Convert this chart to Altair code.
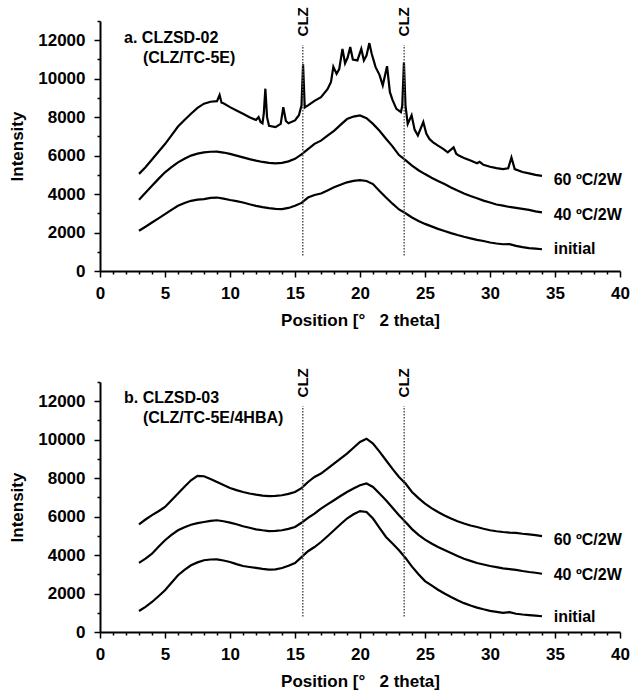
import altair as alt
import pandas as pd

FONT = "Liberation Sans"

# Sampling grid (degrees 2-theta) shared by the smooth patterns
two_theta = [round(3.0 + 0.5 * i, 2) for i in range(63)]

# ---- a. CLZSD-02 (CLZ/TC-5E) ----
a_initial = [2090, 2300, 2520, 2740, 2960, 3180, 3390, 3540, 3650, 3710,
             3740, 3800, 3820, 3760, 3690, 3630, 3560, 3470, 3390, 3320,
             3270, 3230, 3220, 3280, 3390, 3540, 3820, 3950, 4030, 4190,
             4350, 4480, 4610, 4690, 4730, 4680, 4520, 4160, 3820, 3500,
             3200, 3000, 2780, 2600, 2450, 2320, 2190, 2080, 1970, 1870,
             1780, 1700, 1620, 1560, 1480, 1430, 1390, 1400, 1310, 1240,
             1190, 1160, 1130]
a_40c = [3700, 4070, 4430, 4790, 5130, 5400, 5650, 5840, 6000, 6100,
         6170, 6200, 6210, 6160, 6090, 6000, 5910, 5820, 5740, 5670,
         5620, 5600, 5620, 5700, 5830, 6060, 6340, 6610, 6780, 7040,
         7290, 7600, 7900, 8030, 8090, 7950, 7650, 7290, 6880, 6480,
         6030, 5760, 5480, 5240, 5040, 4850, 4680, 4520, 4340, 4180,
         4030, 3900, 3780, 3660, 3560, 3460, 3400, 3330, 3280, 3230,
         3180, 3100, 3050]
# 60 ºC/2W shows crystalline reflections, so it is sampled more finely
a_60c_pos = [3.0, 3.5, 4.0, 4.5, 5.0, 5.5, 6.0, 6.5, 7.0, 7.5,
             8.0, 8.5, 9.0, 9.2, 9.35, 9.5, 10.0, 10.5, 11.0, 11.5,
             12.0, 12.2, 12.35, 12.5, 12.6, 12.72, 12.85, 13.0, 13.5, 13.9,
             14.1, 14.3, 14.5, 15.0, 15.3, 15.5, 15.62, 15.75, 16.0, 16.5,
             17.0, 17.5, 17.77, 17.95, 18.2, 18.4, 18.65, 18.85, 19.05, 19.25,
             19.45, 19.8, 20.1, 20.3, 20.5, 20.72, 20.9, 21.2, 21.5, 21.75,
             22.08, 22.3, 22.5, 22.8, 23.15, 23.25, 23.38, 23.5, 23.67, 23.97,
             24.2, 24.45, 24.87, 25.1, 25.33, 25.6, 26.0, 26.4, 26.75, 27.2,
             27.4, 27.6, 28.0, 28.5, 29.0, 29.2, 29.5, 30.0, 30.5, 31.0,
             31.4, 31.65, 31.9, 32.5, 33.0, 33.5, 34.0]
a_60c = [5050, 5400, 5800, 6200, 6600, 7050, 7510, 7850, 8180, 8480,
         8700, 8800, 8830, 9150, 8750, 8720, 8520, 8350, 8180, 8000,
         7850, 8000, 7750, 7680, 8200, 9480, 8000, 7550, 7480, 7650,
         8520, 7800, 7680, 7830, 8100, 8600, 10750, 8500, 8610, 8850,
         9040, 9450, 9830, 10620, 10250, 10500, 11550, 10800, 11100, 11650,
         11000, 10950, 11550, 10950, 11200, 11850, 11300, 10600, 10200, 9650,
         10650, 9300, 8900, 8430, 8260, 8600, 10850, 8600, 7650, 8100,
         7350, 7050, 7750, 7150, 6870, 6700, 6520, 6350, 6170, 6430,
         6100, 6000, 5880, 5750, 5600, 5680, 5520, 5420, 5350, 5300,
         5340, 5900, 5300, 5150, 5080, 5000, 4950]

# ---- b. CLZSD-03 (CLZ/TC-5E/4HBA) ----
b_initial = [1090, 1310, 1560, 1860, 2170, 2560, 2950, 3230, 3470, 3620,
             3730, 3770, 3780, 3720, 3640, 3530, 3430, 3380, 3330, 3280,
             3240, 3260, 3330, 3440, 3590, 3890, 4200, 4420, 4680, 4980,
             5290, 5600, 5900, 6120, 6290, 6240, 5900, 5420, 4940, 4600,
             4250, 3850, 3400, 3000, 2650, 2420, 2200, 2000, 1820, 1650,
             1500, 1380, 1270, 1180, 1100, 1050, 1000, 1030, 950, 910,
             880, 850, 820]
b_40c = [3590, 3820, 4070, 4430, 4770, 5050, 5290, 5450, 5580, 5660,
         5720, 5780, 5810, 5760, 5690, 5600, 5500, 5420, 5340, 5290,
         5250, 5260, 5290, 5360, 5460, 5680, 5930, 6160, 6420, 6640,
         6850, 7070, 7280, 7460, 7630, 7720, 7540, 7200, 6850, 6460,
         6070, 5720, 5350, 5050, 4800, 4600, 4420, 4260, 4110, 3950,
         3810, 3700, 3590, 3510, 3430, 3370, 3310, 3270, 3230, 3170,
         3120, 3080, 3030]
b_60c = [5600, 5850, 6080, 6280, 6500, 6850, 7200, 7550, 7890, 8120,
         8100, 7950, 7800, 7640, 7490, 7380, 7280, 7200, 7140, 7090,
         7070, 7080, 7110, 7180, 7280, 7480, 7800, 8060, 8240, 8500,
         8760, 9020, 9280, 9580, 9880, 10050, 9800, 9380, 8930, 8480,
         8060, 7720, 7280, 6960, 6680, 6440, 6240, 6060, 5900, 5760,
         5640, 5540, 5460, 5370, 5290, 5240, 5200, 5170, 5150, 5110,
         5080, 5040, 4990]

# CLZ reference reflections
clz_pos = [15.6, 23.4]
clz_label = ["CLZ", "CLZ"]

series_names = ["initial", "40 ºC/2W", "60 ºC/2W"]
label_y_a = [1130, 2900, 4750]
label_y_b = [800, 2950, 4770]


def frame(x, y, name):
    return pd.DataFrame({"pos": x, "intensity": y, "sample": name})


x_scale = alt.Scale(domain=[0, 40], nice=False, zero=False)
y_scale = alt.Scale(domain=[0, 13000], nice=False)

x_axis = alt.Axis(
    title="Position [°\u00a0\u00a0 2 theta]",
    values=list(range(0, 41)),
    labelExpr="datum.value % 5 === 0 ? datum.label : ''",
    tickSize={"condition": {"test": "datum.value % 5 === 0", "value": 6}, "value": 3},
    labelPadding=8, titlePadding=11, labelOverlap=False, labelFlush=False,
)
y_axis = alt.Axis(
    title="Intensity", format="d",
    values=list(range(0, 13001, 1000)),
    labelExpr="datum.value % 2000 === 0 && datum.value <= 12000 ? datum.label : ''",
    tickSize={"condition": {"test": "datum.value % 2000 === 0", "value": 6}, "value": 3},
    labelPadding=9, titlePadding=11, labelOverlap=False, labelFlush=False,
)


def panel(curves, note_lines, note_y, label_y):
    X = alt.X("pos:Q", scale=x_scale, axis=x_axis)
    lines = alt.Chart(curves).mark_line(color="black", strokeWidth=2.2).encode(
        x=X, y=alt.Y("intensity:Q", scale=y_scale, axis=y_axis), detail="sample:N"
    )
    clz = pd.DataFrame({"pos": clz_pos, "label": clz_label,
                        "lo": [800, 800], "hi": [11750, 11750], "ty": [12200, 12200]})
    rules = alt.Chart(clz).mark_rule(color="#555555", strokeWidth=1.5, strokeDash=[1.5, 1.5]).encode(
        x=X, y=alt.Y("lo:Q", scale=y_scale, axis=y_axis), y2="hi:Q"
    )
    clz_text = alt.Chart(clz).mark_text(
        angle=270, align="left", baseline="middle", font=FONT, fontSize=15,
        fontWeight="bold", color="black"
    ).encode(x=X, y=alt.Y("ty:Q", scale=y_scale, axis=y_axis), text="label:N")
    notes = pd.DataFrame({"pos": [1.85, 3.3], "y": note_y, "txt": note_lines})
    note_text = alt.Chart(notes).mark_text(
        align="left", baseline="middle", font=FONT, fontSize=16, fontWeight="bold", color="black"
    ).encode(x=X, y=alt.Y("y:Q", scale=y_scale, axis=y_axis), text="txt:N")
    ends = pd.DataFrame({"pos": [34.9] * 3, "y": label_y, "txt": series_names})
    end_text = alt.Chart(ends).mark_text(
        align="left", baseline="middle", font=FONT, fontSize=16, fontWeight="bold", color="black"
    ).encode(x=X, y=alt.Y("y:Q", scale=y_scale, axis=y_axis), text="txt:N")
    return alt.layer(lines, rules, clz_text, note_text, end_text).properties(width=520, height=250)


curves_a = pd.concat([
    frame(two_theta, a_initial, "initial"),
    frame(two_theta, a_40c, "40"),
    frame(a_60c_pos, a_60c, "60"),
])
curves_b = pd.concat([
    frame(two_theta, b_initial, "initial"),
    frame(two_theta, b_40c, "40"),
    frame(two_theta, b_60c, "60"),
])

panel_a = panel(curves_a, ["a. CLZSD-02", "(CLZ/TC-5E)"], [12100, 11060], label_y_a)
panel_b = panel(curves_b, ["b. CLZSD-03", "(CLZ/TC-5E/4HBA)"], [12170, 11130], label_y_b)

chart = alt.vconcat(panel_a, panel_b, spacing=40).properties(
    padding={"left": 8, "top": 7, "right": 5, "bottom": 5}, background="white"
).configure_view(stroke=None).configure_axis(
    grid=False, domainColor="black", domainWidth=2, tickColor="black", tickWidth=1.5,
    labelFont=FONT, labelFontSize=17, labelFontWeight="bold", labelColor="black",
    titleFont=FONT, titleFontSize=17, titleFontWeight="bold", titleColor="black",
)

chart.save("out.html", embed_options={"renderer": "svg", "actions": False})
